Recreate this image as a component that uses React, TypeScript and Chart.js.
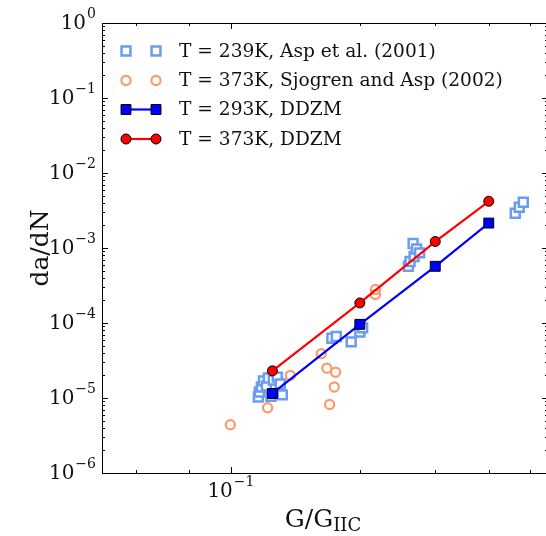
import React, { useEffect, useRef } from "react";
import { Chart, registerables } from "chart.js";

Chart.register(...registerables);

// ---- Data ----
const aspX = [0.1159, 0.1165, 0.1178, 0.1191, 0.121, 0.1223, 0.124, 0.1256, 0.1283, 0.1304, 0.1318, 0.1721, 0.1762, 0.1909, 0.2, 0.203, 0.2597, 0.262, 0.2663, 0.2677, 0.2714, 0.2758, 0.4612, 0.4713, 0.4815];
const aspY = [1.03e-5, 1.2e-5, 1.4e-5, 1.69e-5, 1.45e-5, 1.85e-5, 1.05e-5, 1.74e-5, 1.9e-5, 1.54e-5, 1.1e-5, 6.25e-5, 6.6e-5, 5.6e-5, 7.6e-5, 8.6e-5, 5.7e-4, 6.6e-4, 1.15e-3, 7.7e-4, 9.7e-4, 8.6e-4, 2.9e-3, 3.49e-3, 4.07e-3];

const sjoX = [0.0997, 0.1218, 0.1376, 0.1625, 0.1675, 0.1755, 0.1743, 0.17, 0.2175, 0.2175];
const sjoY = [4.4e-6, 7.4e-6, 2.0e-5, 3.9e-5, 2.5e-5, 2.2e-5, 1.4e-5, 8.2e-6, 2.8e-4, 2.4e-4];

const ddzm293X = [0.125, 0.2, 0.3, 0.4];
const ddzm293Y = [1.15e-5, 9.6e-5, 5.7e-4, 2.15e-3];

const ddzm373X = [0.125, 0.2, 0.3, 0.4];
const ddzm373Y = [2.3e-5, 1.85e-4, 1.22e-3, 4.2e-3];

const legendLabels = [
  "T = 239K, Asp et al. (2001)",
  "T = 373K, Sjogren and Asp (2002)",
  "T = 293K, DDZM",
  "T = 373K, DDZM",
];

const xMajorTicks = [0.1];
const xMajorExp = ["\u22121"];
const xMinorTicks = [0.06, 0.08, 0.2, 0.3, 0.4, 0.5];
const yMajorTicks = [1, 1e-1, 1e-2, 1e-3, 1e-4, 1e-5, 1e-6];
const yMajorExp = ["0", "\u22121", "\u22122", "\u22123", "\u22124", "\u22125", "\u22126"];
const yMinorMantissas = [2, 3, 4, 5, 6, 7, 8, 9];
const yMinorExps = [-6, -5, -4, -3, -2, -1];

const xTitle = "G/G";
const xTitleSub = "IIC";
const yTitle = "da/dN";

const SERIF = '"DejaVu Serif", "Liberation Serif", serif';

const zip = (xs: number[], ys: number[]) => xs.map((x, i) => ({ x, y: ys[i] }));

function drawMarker(ctx: CanvasRenderingContext2D, ds: any, x: number, y: number) {
  const r = ds.pointRadius;
  ctx.save();
  ctx.lineWidth = ds.pointBorderWidth;
  ctx.strokeStyle = ds.pointBorderColor;
  ctx.fillStyle = ds.pointBackgroundColor;
  ctx.beginPath();
  if (ds.pointStyle === "rect") {
    const s = Math.SQRT1_2 * r;
    ctx.rect(x - s, y - s, 2 * s, 2 * s);
  } else {
    ctx.arc(x, y, r, 0, Math.PI * 2);
  }
  ctx.fill();
  ctx.stroke();
  ctx.restore();
}

const decorPlugin = {
  id: "decor",
  afterDraw(chart: any) {
    const { ctx, chartArea: a, scales } = chart;
    const xs = scales.x;
    const ys = scales.y;
    ctx.save();
    // frame
    ctx.strokeStyle = "#000";
    ctx.lineWidth = 1;
    ctx.strokeRect(Math.round(a.left) + 0.5, Math.round(a.top) + 0.5, Math.round(a.right - a.left), Math.round(a.bottom - a.top));

    const line = (x1: number, y1: number, x2: number, y2: number) => {
      ctx.beginPath();
      ctx.moveTo(x1, y1);
      ctx.lineTo(x2, y2);
      ctx.stroke();
    };
    const MAJ = 6;
    const MIN = 3;
    // x ticks
    xMajorTicks.forEach((v) => {
      const p = Math.round(xs.getPixelForValue(v)) + 0.5;
      line(p, a.bottom, p, a.bottom - MAJ);
      line(p, a.top, p, a.top + MAJ);
    });
    xMinorTicks.forEach((v) => {
      const p = Math.round(xs.getPixelForValue(v)) + 0.5;
      line(p, a.bottom, p, a.bottom - MIN);
      line(p, a.top, p, a.top + MIN);
    });
    // y ticks
    yMajorTicks.forEach((v) => {
      const p = Math.round(ys.getPixelForValue(v)) + 0.5;
      line(a.left, p, a.left + MAJ, p);
      line(a.right, p, a.right - MAJ, p);
    });
    yMinorExps.forEach((e) => {
      yMinorMantissas.forEach((m) => {
        const p = Math.round(ys.getPixelForValue(m * Math.pow(10, e))) + 0.5;
        line(a.left, p, a.left + MIN, p);
        line(a.right, p, a.right - MIN, p);
      });
    });

    // tick labels
    const baseFont = `20px ${SERIF}`;
    const expFont = `14px ${SERIF}`;
    ctx.fillStyle = "#111";
    ctx.textBaseline = "middle";
    ctx.textAlign = "left";
    const powWidth = (exp: string) => {
      ctx.font = baseFont;
      const wb = ctx.measureText("10").width;
      ctx.font = expFont;
      const we = ctx.measureText(exp).width;
      return [wb, we];
    };
    yMajorTicks.forEach((v, i) => {
      const p = ys.getPixelForValue(v);
      const [wb, we] = powWidth(yMajorExp[i]);
      const right = a.left - 6;
      const x0 = right - wb - we - 1;
      ctx.font = baseFont;
      ctx.fillText("10", x0, p + 1);
      ctx.font = expFont;
      ctx.fillText(yMajorExp[i], x0 + wb + 1, p - 9);
    });
    xMajorTicks.forEach((v, i) => {
      const p = xs.getPixelForValue(v);
      const [wb, we] = powWidth(xMajorExp[i]);
      const x0 = p - (wb + we + 1) / 2;
      ctx.font = baseFont;
      ctx.fillText("10", x0, a.bottom + 19);
      ctx.font = expFont;
      ctx.fillText(xMajorExp[i], x0 + wb + 1, a.bottom + 9);
    });

    // axis titles
    ctx.fillStyle = "#111";
    ctx.font = `25px ${SERIF}`;
    ctx.textBaseline = "alphabetic";
    const wT = ctx.measureText(xTitle).width;
    ctx.font = `18px ${SERIF}`;
    const wS = ctx.measureText(xTitleSub).width;
    const cx = (a.left + 546) / 2 - 1;
    const tx = cx - (wT + wS) / 2;
    ctx.font = `25px ${SERIF}`;
    ctx.fillText(xTitle, tx, 527);
    ctx.font = `18px ${SERIF}`;
    ctx.fillText(xTitleSub, tx + wT, 531);

    ctx.save();
    ctx.translate(48, (a.top + a.bottom) / 2);
    ctx.rotate(-Math.PI / 2);
    ctx.font = `25px ${SERIF}`;
    ctx.textAlign = "center";
    ctx.fillText(yTitle, 0, 0);
    ctx.restore();

    // legend
    const rows = [51, 80.5, 109.5, 139];
    const mx1 = 126;
    const mx2 = 156;
    chart.data.datasets.forEach((ds: any, i: number) => {
      const y = rows[i];
      if (ds.showLine) {
        ctx.save();
        ctx.strokeStyle = ds.borderColor;
        ctx.lineWidth = ds.borderWidth;
        line(mx1, y, mx2, y);
        ctx.restore();
      }
      drawMarker(ctx, ds, mx1, y);
      drawMarker(ctx, ds, mx2, y);
      ctx.fillStyle = "#111";
      ctx.font = `18.6px ${SERIF}`;
      ctx.textAlign = "left";
      ctx.textBaseline = "middle";
      ctx.fillText(legendLabels[i], 179, y + 1);
    });
    ctx.restore();
  },
};

export default function App() {
  const ref = useRef<HTMLCanvasElement | null>(null);
  useEffect(() => {
    if (!ref.current) return;
    const chart = new Chart(ref.current, {
      type: "scatter",
      data: {
        datasets: [
          {
            label: legendLabels[0],
            data: zip(aspX, aspY),
            pointStyle: "rect",
            pointRadius: 6.3,
            pointBorderWidth: 2.5,
            pointBorderColor: "#6a9cf2",
            pointBackgroundColor: "#ffffff",
            borderColor: "#6a9cf2",
            backgroundColor: "#ffffff",
            showLine: false,
            order: 4,
          } as any,
          {
            label: legendLabels[1],
            data: zip(sjoX, sjoY),
            pointStyle: "circle",
            pointRadius: 4.6,
            pointBorderWidth: 2.2,
            pointBorderColor: "#fc9a68",
            pointBackgroundColor: "rgba(255,255,255,0)",
            borderColor: "#fc9a68",
            backgroundColor: "rgba(255,255,255,0)",
            showLine: false,
            order: 3,
          } as any,
          {
            label: legendLabels[2],
            data: zip(ddzm293X, ddzm293Y),
            pointStyle: "rect",
            pointRadius: 7,
            pointBorderWidth: 1,
            pointBorderColor: "#000000",
            pointBackgroundColor: "#0000ff",
            borderColor: "#0000ff",
            backgroundColor: "#0000ff",
            borderWidth: 2.2,
            showLine: true,
            order: 2,
          } as any,
          {
            label: legendLabels[3],
            data: zip(ddzm373X, ddzm373Y),
            pointStyle: "circle",
            pointRadius: 5,
            pointBorderWidth: 1,
            pointBorderColor: "#000000",
            pointBackgroundColor: "#ff0000",
            borderColor: "#ff0000",
            backgroundColor: "#ff0000",
            borderWidth: 2.2,
            showLine: true,
            order: 1,
          } as any,
        ],
      },
      options: {
        animation: false,
        responsive: false,
        devicePixelRatio: 1,
        layout: { padding: { left: 102, top: 23, right: 12, bottom: 63 } },
        plugins: { legend: { display: false }, tooltip: { enabled: false } },
        scales: {
          x: { type: "logarithmic", min: 0.05, max: 0.55, display: false },
          y: { type: "logarithmic", min: 1e-6, max: 1, display: false },
        },
      },
      plugins: [decorPlugin],
    });
    return () => chart.destroy();
  }, []);
  return (
    <div style={{ position: "fixed", left: 0, top: 0, width: 546, height: 536, overflow: "hidden", background: "#fff" }}>
      <canvas ref={ref} width={560} height={536} style={{ display: "block", width: 560, height: 536 }} />
    </div>
  );
}
